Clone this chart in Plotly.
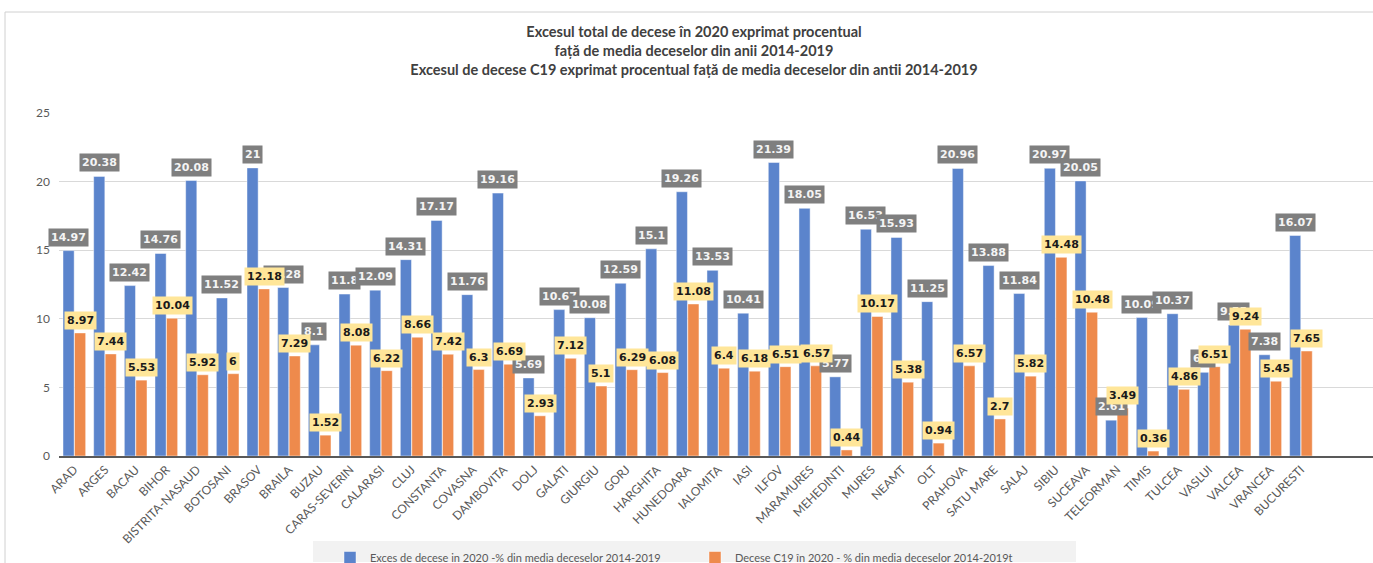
import plotly.graph_objects as go

categories = ["ARAD", "ARGES", "BACAU", "BIHOR", "BISTRITA-NASAUD", "BOTOSANI", "BRASOV",
              "BRAILA", "BUZAU", "CARAS-SEVERIN", "CALARASI", "CLUJ", "CONSTANTA", "COVASNA",
              "DAMBOVITA", "DOLJ", "GALATI", "GIURGIU", "GORJ", "HARGHITA", "HUNEDOARA",
              "IALOMITA", "IASI", "ILFOV", "MARAMURES", "MEHEDINTI", "MURES", "NEAMT", "OLT",
              "PRAHOVA", "SATU MARE", "SALAJ", "SIBIU", "SUCEAVA", "TELEORMAN", "TIMIS",
              "TULCEA", "VASLUI", "VALCEA", "VRANCEA", "BUCURESTI"]
exces_total = [14.97, 20.38, 12.42, 14.76, 20.08, 11.52, 21, 12.28, 8.1, 11.8, 12.09, 14.31,
               17.17, 11.76, 19.16, 5.69, 10.67, 10.08, 12.59, 15.1, 19.26, 13.53, 10.41,
               21.39, 18.05, 5.77, 16.53, 15.93, 11.25, 20.96, 13.88, 11.84, 20.97, 20.05,
               2.61, 10.09, 10.37, 6.1, 9.55, 7.38, 16.07]
decese_c19 = [8.97, 7.44, 5.53, 10.04, 5.92, 6, 12.18, 7.29, 1.52, 8.08, 6.22, 8.66, 7.42,
              6.3, 6.69, 2.93, 7.12, 5.1, 6.29, 6.08, 11.08, 6.4, 6.18, 6.51, 6.57, 0.44,
              10.17, 5.38, 0.94, 6.57, 2.7, 5.82, 14.48, 10.48, 3.49, 0.36, 4.86, 6.51, 9.24,
              5.45, 7.65]
name_total = "Exces de decese in 2020 -% din media deceselor 2014-2019"
name_c19 = "Decese C19 în 2020 - % din media deceselor 2014-2019t"
title_lines = ["Excesul total de decese în 2020 exprimat procentual",
               "față de media deceselor din anii 2014-2019",
               "Excesul de decese C19 exprimat procentual față de media deceselor din antii 2014-2019"]

W, H = 1373, 563
L, R, T, B = 59, 0, 113, 107
pw, ph = W - L - R, H - T - B

def px_x(p):
    return (p - L) / pw

def px_y(p):
    return (H - B - p) / ph

BLUE = "#5B84CC"
ORANGE = "#EE8A4C"
FONT = "Lato"

fig = go.Figure()
fig.add_trace(go.Bar(x=categories, y=exces_total, name=name_total, marker_color=BLUE,
                     marker_line=dict(color="rgba(255,255,255,0.45)", width=1)))
fig.add_trace(go.Bar(x=categories, y=decese_c19, name=name_c19, marker_color=ORANGE,
                     marker_line=dict(color="rgba(255,255,255,0.45)", width=1)))

bargap = 0.25
off = (1 - bargap) / 4
annotations = []
for i, v in enumerate(exces_total):
    annotations.append(dict(x=i - off, y=v, xref="x", yref="y", text="<b>%s</b>" % v,
                            showarrow=False, yanchor="bottom", yshift=4,
                            font=dict(family="DejaVu Sans", size=11, color="#f4f4f4"),
                            bgcolor="#7f7f7f", borderpad=2))
for i, v in enumerate(decese_c19):
    annotations.append(dict(x=i + off, y=v, xref="x", yref="y", text="<b>%s</b>" % v,
                            showarrow=False, yanchor="bottom", yshift=3,
                            font=dict(family="DejaVu Sans", size=11, color="#1a1a1a"),
                            bgcolor="#FFE699", borderpad=2))

shapes = [
    dict(type="rect", xref="paper", yref="paper", x0=px_x(5), x1=px_x(1390),
         y0=px_y(580), y1=px_y(12), line=dict(color="#d0d0d0", width=1), layer="below"),
    dict(type="rect", xref="paper", yref="paper", x0=px_x(313), x1=px_x(1076),
         y0=px_y(562), y1=px_y(541), line=dict(width=0), fillcolor="#f2f2f2", layer="below"),
]

fig.update_layout(
    width=W, height=H,
    margin=dict(l=L, r=R, t=T, b=B, autoexpand=False),
    paper_bgcolor="white", plot_bgcolor="white",
    barmode="group", bargap=bargap, bargroupgap=0.03,
    font=dict(family=FONT, color="#595959"),
    title=dict(text="<b>" + "<br>".join(title_lines) + "</b>", xref="container",
               x=694 / W, xanchor="center", yref="container", y=1 - 37 / H, yanchor="top",
               font=dict(family=FONT, size=14.5, color="#404040")),
    xaxis=dict(type="category", range=[-0.5, 42.35], tickangle=-45, showgrid=False,
               showline=True, linecolor="#595959", linewidth=2, ticks="", automargin=False,
               tickfont=dict(family=FONT, size=12, color="#595959")),
    yaxis=dict(range=[0, 25], dtick=5, showgrid=True, gridcolor="#d9d9d9", gridwidth=1,
               zeroline=False, ticks="", ticklabelstandoff=8, automargin=False,
               tickfont=dict(family=FONT, size=12, color="#595959")),
    legend=dict(orientation="h", x=px_x(330), xanchor="left", y=px_y(543), yanchor="top",
                bgcolor="rgba(0,0,0,0)", entrywidth=320, entrywidthmode="pixels",
                font=dict(family=FONT, size=11, color="#595959"), itemwidth=30),
    annotations=annotations,
    shapes=shapes,
)

fig.write_html("out.html")
